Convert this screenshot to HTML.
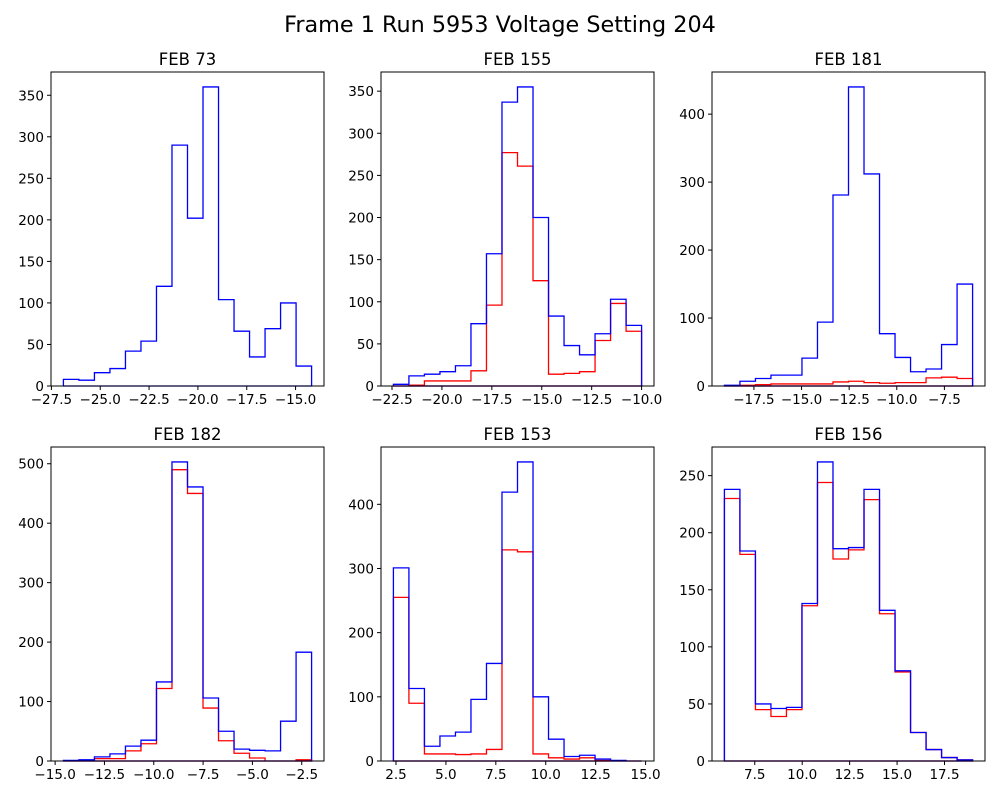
<!DOCTYPE html>
<html><head><meta charset="utf-8"><style>
html,body{margin:0;padding:0;background:#fff;}
svg{display:block;font-family:"DejaVu Sans","Liberation Sans",sans-serif;}
</style></head><body>
<svg id="fig" width="1000" height="800" viewBox="0 0 1000 800">
<text x="500" y="32" text-anchor="middle" font-size="22.3">Frame 1 Run 5953 Voltage Setting 204</text>
</svg>
<script>
const titles = ["FEB 73","FEB 155","FEB 181","FEB 182","FEB 153","FEB 156"];
const binRanges = [[-26.885,-14.18],[-22.43,-10.0],[-19.05,-6.02],[-14.58,-2.0],[2.37,14.8],[5.9,18.98]];
const blue73 = [8,7,16,21,42,54,120,290,202,360,104,66,35,69,100,24];
const red73 = null;
const blue155 = [2,12,14,17,24,74,157,337,355,200,83,48,37,62,103,72];
const red155 = [0,1,6,6,6,18,96,277,261,125,14,15,17,54,98,65];
const blue181 = [1,7,11,16,16,41,94,281,440,312,77,42,21,25,61,150];
const red181 = [0,1,2,3,3,3,3,6,7,5,4,5,5,12,13,11];
const blue182 = [1,2,7,12,25,35,133,503,461,106,50,20,18,17,67,183];
const red182 = [0,1,4,4,17,29,122,490,450,89,34,13,5,0,0,2];
const blue153 = [301,113,23,39,45,96,152,419,466,100,34,7,9,3,1,0];
const red153 = [255,90,11,11,10,11,18,329,326,11,5,3,5,1,0,0];
const blue156 = [238,184,50,46,47,138,262,186,187,238,132,79,25,10,3,1];
const red156 = [230,181,45,39,45,136,244,177,185,229,129,78,25,10,3,1];
const blueSeries = [blue73,blue155,blue181,blue182,blue153,blue156];
const redSeries = [red73,red155,red181,red182,red153,red156];
const xTicks = [[-27.5,-25,-22.5,-20,-17.5,-15],[-22.5,-20,-17.5,-15,-12.5,-10],[-17.5,-15,-12.5,-10,-7.5],[-15,-12.5,-10,-7.5,-5,-2.5],[2.5,5,7.5,10,12.5,15],[7.5,10,12.5,15,17.5]];
const yTicks = [[0,50,100,150,200,250,300,350],[0,50,100,150,200,250,300,350],[0,100,200,300,400],[0,100,200,300,400,500],[0,100,200,300,400],[0,50,100,150,200,250]];

const NS="http://www.w3.org/2000/svg";
const svg=document.getElementById('fig');
const boxes=[[51,72],[381,72],[712,72],[51,447],[381,447],[712,447]];
const W=273,H=314;
function mk(tag,attrs,parent){const e=document.createElementNS(NS,tag);for(const k in attrs)e.setAttribute(k,attrs[k]);(parent||svg).appendChild(e);return e;}
function fmt(v,dec){let s=v.toFixed(dec);return s.replace('-','\u2212');}

for(let p=0;p<6;p++){
  const [bx,by]=boxes[p];
  const [lo,hi]=binRanges[p];
  const blue=blueSeries[p], red=redSeries[p];
  const n=blue.length, bw=(hi-lo)/n;
  const xmin=lo-0.05*(hi-lo), xmax=hi+0.05*(hi-lo);
  const ymax=Math.max(...blue)*1.05;
  const X=v=>bx+(v-xmin)/(xmax-xmin)*W;
  const Y=v=>by+H-v/ymax*H;
  const g=mk('g',{});
  
  
  const t=mk('text',{x:bx+W/2,y:by-7,'text-anchor':'middle','font-size':16.5},g);
  t.textContent=titles[p];
  
  
  function stepPath(vals,color,name){
    let d='M'+X(lo)+','+Y(0);
    for(let i=0;i<n;i++){d+=' L'+X(lo+i*bw)+','+Y(vals[i])+' L'+X(lo+(i+1)*bw)+','+Y(vals[i]);}
    d+=' L'+X(hi)+','+Y(0)+' Z';
    const el=mk('path',{d:d,fill:'none',stroke:color,'stroke-width':1.3},g);
    
    
  }
  if(red) stepPath(red,'#ff0000','red-histogram');
  stepPath(blue,'#0000ff','blue-histogram');
  const fr=mk('rect',{x:bx,y:by,width:W,height:H,fill:'none',stroke:'#000','stroke-width':1},g);
  
  
  xTicks[p].forEach(v=>{
    const x=X(v);
    mk('line',{x1:x,y1:by+H,x2:x,y2:by+H+4,stroke:'#000','stroke-width':1},g);
    const tl=mk('text',{x:x,y:by+H+18,'text-anchor':'middle','font-size':13.5},g);
    tl.textContent=fmt(v,1);
    
    
  });
  yTicks[p].forEach(v=>{
    const y=Y(v);
    mk('line',{x1:bx-4,y1:y,x2:bx,y2:y,stroke:'#000','stroke-width':1},g);
    const tl=mk('text',{x:bx-7,y:y+5,'text-anchor':'end','font-size':13.5},g);
    tl.textContent=String(v);
    
    
  });
}
</script>
</body></html>
